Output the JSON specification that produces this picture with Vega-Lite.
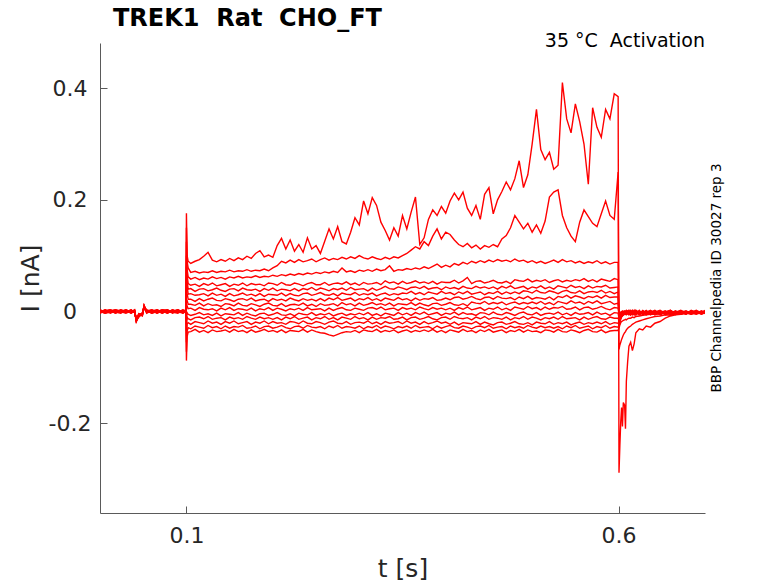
{
"$schema":"https://vega.github.io/schema/vega-lite/v6.json",
"width":605,"height":470,
"autosize":{"type":"none"},
"padding":{"left":100,"top":43,"right":73,"bottom":70},
"background":"white",
"config":{"view":{"stroke":null},"font":"DejaVu Sans"},
"title":{"text":"TREK1 \u00a0Rat \u00a0CHO_FT","anchor":"start","frame":"group","fontSize":24,"fontWeight":"bold","font":"DejaVu Sans","color":"#000000","offset":1,"dx":13},
"layer":[
{"data":{"values":[
{"t":0,"a":0.002,"b":-0.001,"c":0.003,"d":-0.002,"e":0.001,"f":-0.003,"g":0,"h":0.002,"i":-0.002,"j":0.001,"k":-0.001,"l":0.003,"m":-0.003,"n":0},
{"t":0.006,"a":-0.002,"b":0.003,"c":-0.001,"d":0.001,"e":-0.003,"f":0.002,"g":0.001,"h":-0.002,"i":0.003,"j":0,"k":0.002,"l":-0.001,"m":0.001,"n":-0.003},
{"t":0.012,"a":0.001,"b":-0.002,"c":0.002,"d":0.003,"e":-0.001,"f":0,"g":-0.003,"h":0.001,"i":-0.001,"j":0.002,"k":-0.002,"l":0,"m":0.003,"n":0.001},
{"t":0.018,"a":-0.003,"b":0,"c":-0.002,"d":-0.001,"e":0.002,"f":0.003,"g":0.001,"h":-0.002,"i":0,"j":-0.003,"k":0.001,"l":0.002,"m":-0.001,"n":0.003},
{"t":0.024,"a":0.003,"b":0.001,"c":0,"d":-0.003,"e":-0.002,"f":0.001,"g":0.002,"h":0.003,"i":-0.001,"j":0.002,"k":0,"l":-0.002,"m":0.001,"n":-0.001},
{"t":0.03,"a":-0.001,"b":0.002,"c":-0.003,"d":0.002,"e":0.003,"f":-0.002,"g":-0.001,"h":0,"i":0.002,"j":-0.001,"k":0.003,"l":0.001,"m":-0.002,"n":0.002},
{"t":0.036,"a":0,"b":-0.003,"c":0.001,"d":0.001,"e":-0.001,"f":0.002,"g":0.003,"h":-0.001,"i":-0.003,"j":0.003,"k":-0.002,"l":-0.001,"m":0.002,"n":-0.002},
{"t":0.04,"a":0.002,"b":0.001,"c":-0.001,"d":-0.002,"e":0,"f":-0.001,"g":-0.002,"h":0.003,"i":0.001,"j":-0.002,"k":0.001,"l":0.002,"m":0,"n":0.003},
{"t":0.042,"a":-0.017,"b":-0.013,"c":-0.015,"d":-0.014,"e":-0.018,"f":-0.014,"g":-0.012,"h":-0.016,"i":-0.013,"j":-0.015,"k":-0.016,"l":-0.017,"m":-0.014,"n":-0.018},
{"t":0.045,"a":-0.006,"b":-0.008,"c":-0.005,"d":-0.009,"e":-0.007,"f":-0.004,"g":-0.008,"h":-0.006,"i":-0.01,"j":-0.005,"k":-0.007,"l":-0.009,"m":-0.004,"n":-0.008},
{"t":0.049,"a":-0.007,"b":-0.005,"c":-0.004,"d":-0.002,"e":-0.006,"f":-0.007,"g":-0.003,"h":-0.005,"i":-0.004,"j":-0.008,"k":-0.003,"l":-0.004,"m":-0.006,"n":-0.005},
{"t":0.051,"a":0.01,"b":0.007,"c":0.008,"d":0.006,"e":0.009,"f":0.011,"g":0.005,"h":0.01,"i":0.007,"j":0.008,"k":0.009,"l":0.006,"m":0.011,"n":0.007},
{"t":0.054,"a":-0.001,"b":0.002,"c":-0.002,"d":0,"e":0.003,"f":-0.001,"g":0.001,"h":-0.003,"i":0.002,"j":0.001,"k":-0.002,"l":0.003,"m":0,"n":0.002},
{"t":0.06,"a":0.003,"b":-0.002,"c":0.001,"d":0.002,"e":-0.001,"f":0,"g":-0.003,"h":0.002,"i":-0.002,"j":0.003,"k":0.001,"l":-0.001,"m":0.002,"n":-0.003},
{"t":0.066,"a":-0.002,"b":0.001,"c":0.003,"d":-0.003,"e":0.002,"f":-0.001,"g":0,"h":0.001,"i":0.003,"j":-0.002,"k":-0.001,"l":0.002,"m":-0.003,"n":0.001},
{"t":0.072,"a":0.001,"b":-0.003,"c":-0.001,"d":0.002,"e":0,"f":0.002,"g":0.003,"h":-0.002,"i":-0.001,"j":0.001,"k":0.003,"l":-0.003,"m":0.001,"n":0},
{"t":0.078,"a":-0.003,"b":0.002,"c":0,"d":-0.001,"e":-0.002,"f":0.003,"g":-0.001,"h":0.003,"i":0,"j":-0.003,"k":0.002,"l":0.001,"m":-0.002,"n":0.002},
{"t":0.084,"a":0.002,"b":0,"c":-0.002,"d":0.003,"e":0.001,"f":-0.003,"g":0.002,"h":-0.001,"i":-0.002,"j":0.002,"k":-0.001,"l":0,"m":0.003,"n":-0.002},
{"t":0.09,"a":0,"b":-0.001,"c":0.003,"d":-0.002,"e":0.003,"f":0.001,"g":-0.002,"h":0,"i":0.002,"j":-0.001,"k":-0.003,"l":0.002,"m":-0.001,"n":0.003},
{"t":0.096,"a":-0.001,"b":0.003,"c":-0.003,"d":0.001,"e":-0.002,"f":0.002,"g":0.001,"h":-0.003,"i":0.001,"j":0,"k":0.002,"l":-0.002,"m":0.002,"n":-0.001},
{"t":0.0995,"a":0.001,"b":-0.002,"c":0.002,"d":0,"e":-0.001,"f":-0.003,"g":0.003,"h":0.002,"i":-0.002,"j":0.003,"k":0,"l":0.001,"m":-0.003,"n":0.001},
{"t":0.1,"a":0.176,"b":0.15,"c":0.125,"d":0.1,"e":0.08,"f":0.06,"g":0.04,"h":0.02,"i":0.005,"j":-0.015,"k":-0.035,"l":-0.055,"m":-0.072,"n":-0.088},
{"t":0.1008,"a":0.1,"b":0.09,"c":0.075,"d":0.065,"e":0.055,"f":0.045,"g":0.032,"h":0.02,"i":0.01,"j":-0.002,"k":-0.01,"l":-0.022,"m":-0.035,"n":-0.045},
{"t":0.102,"a":0.09,"b":0.078,"c":0.062,"d":0.05,"e":0.04,"f":0.031,"g":0.022,"h":0.013,"i":0.005,"j":-0.005,"k":-0.013,"l":-0.02,"m":-0.029,"n":-0.037},
{"t":0.105,"a":0.086,"b":0.07,"c":0.058,"d":0.047,"e":0.041,"f":0.032,"g":0.022,"h":0.013,"i":0.006,"j":-0.007,"k":-0.015,"l":-0.023,"m":-0.031,"n":-0.036},
{"t":0.11,"a":0.09,"b":0.072,"c":0.061,"d":0.049,"e":0.036,"f":0.029,"g":0.018,"h":0.011,"i":0.002,"j":-0.005,"k":-0.011,"l":-0.018,"m":-0.026,"n":-0.032},
{"t":0.115,"a":0.093,"b":0.069,"c":0.057,"d":0.045,"e":0.04,"f":0.03,"g":0.023,"h":0.015,"i":0.007,"j":-0.002,"k":-0.01,"l":-0.02,"m":-0.028,"n":-0.037},
{"t":0.12,"a":0.099,"b":0.071,"c":0.06,"d":0.05,"e":0.041,"f":0.032,"g":0.019,"h":0.01,"i":0.004,"j":-0.006,"k":-0.013,"l":-0.022,"m":-0.03,"n":-0.034},
{"t":0.125,"a":0.106,"b":0.07,"c":0.058,"d":0.047,"e":0.037,"f":0.028,"g":0.022,"h":0.014,"i":0.003,"j":-0.004,"k":-0.009,"l":-0.017,"m":-0.025,"n":-0.038},
{"t":0.13,"a":0.092,"b":0.073,"c":0.062,"d":0.051,"e":0.039,"f":0.033,"g":0.024,"h":0.011,"i":0.005,"j":-0.007,"k":-0.014,"l":-0.021,"m":-0.029,"n":-0.033},
{"t":0.135,"a":0.089,"b":0.07,"c":0.059,"d":0.046,"e":0.042,"f":0.029,"g":0.02,"h":0.012,"i":0.001,"j":-0.003,"k":-0.012,"l":-0.019,"m":-0.027,"n":-0.036},
{"t":0.14,"a":0.093,"b":0.072,"c":0.061,"d":0.048,"e":0.038,"f":0.031,"g":0.019,"h":0.009,"i":0.006,"j":-0.008,"k":-0.011,"l":-0.023,"m":-0.031,"n":-0.035},
{"t":0.145,"a":0.09,"b":0.071,"c":0.058,"d":0.05,"e":0.036,"f":0.027,"g":0.023,"h":0.014,"i":0.003,"j":-0.004,"k":-0.015,"l":-0.018,"m":-0.026,"n":-0.033},
{"t":0.15,"a":0.095,"b":0.074,"c":0.062,"d":0.045,"e":0.04,"f":0.032,"g":0.021,"h":0.013,"i":0.007,"j":-0.005,"k":-0.01,"l":-0.021,"m":-0.03,"n":-0.037},
{"t":0.155,"a":0.091,"b":0.071,"c":0.06,"d":0.049,"e":0.041,"f":0.028,"g":0.018,"h":0.01,"i":0.002,"j":-0.006,"k":-0.013,"l":-0.017,"m":-0.027,"n":-0.032},
{"t":0.16,"a":0.096,"b":0.073,"c":0.063,"d":0.047,"e":0.037,"f":0.03,"g":0.022,"h":0.015,"i":0.005,"j":-0.002,"k":-0.011,"l":-0.022,"m":-0.028,"n":-0.036},
{"t":0.165,"a":0.093,"b":0.072,"c":0.06,"d":0.051,"e":0.042,"f":0.033,"g":0.023,"h":0.011,"i":0.004,"j":-0.007,"k":-0.014,"l":-0.02,"m":-0.025,"n":-0.034},
{"t":0.17,"a":0.099,"b":0.075,"c":0.062,"d":0.046,"e":0.039,"f":0.029,"g":0.02,"h":0.01,"i":0.002,"j":-0.003,"k":-0.009,"l":-0.018,"m":-0.03,"n":-0.038},
{"t":0.175,"a":0.095,"b":0.072,"c":0.061,"d":0.05,"e":0.038,"f":0.031,"g":0.024,"h":0.014,"i":0.006,"j":-0.006,"k":-0.012,"l":-0.023,"m":-0.029,"n":-0.033},
{"t":0.18,"a":0.104,"b":0.074,"c":0.064,"d":0.048,"e":0.04,"f":0.028,"g":0.019,"h":0.012,"i":0.001,"j":-0.008,"k":-0.014,"l":-0.019,"m":-0.026,"n":-0.037},
{"t":0.185,"a":0.109,"b":0.073,"c":0.061,"d":0.049,"e":0.036,"f":0.032,"g":0.021,"h":0.009,"i":0.005,"j":-0.004,"k":-0.01,"l":-0.021,"m":-0.031,"n":-0.035},
{"t":0.19,"a":0.098,"b":0.076,"c":0.063,"d":0.046,"e":0.041,"f":0.027,"g":0.022,"h":0.013,"i":0.003,"j":-0.003,"k":-0.013,"l":-0.017,"m":-0.027,"n":-0.032},
{"t":0.195,"a":0.101,"b":0.073,"c":0.062,"d":0.051,"e":0.038,"f":0.031,"g":0.018,"h":0.015,"i":0.007,"j":-0.007,"k":-0.011,"l":-0.022,"m":-0.026,"n":-0.036},
{"t":0.2,"a":0.097,"b":0.078,"c":0.065,"d":0.05,"e":0.042,"f":0.03,"g":0.023,"h":0.011,"i":0.002,"j":-0.005,"k":-0.014,"l":-0.018,"m":-0.03,"n":-0.034},
{"t":0.205,"a":0.118,"b":0.082,"c":0.063,"d":0.047,"e":0.037,"f":0.029,"g":0.02,"h":0.01,"i":0.006,"j":-0.002,"k":-0.011,"l":-0.021,"m":-0.028,"n":-0.037},
{"t":0.21,"a":0.131,"b":0.09,"c":0.066,"d":0.052,"e":0.04,"f":0.033,"g":0.022,"h":0.014,"i":0.004,"j":-0.006,"k":-0.015,"l":-0.02,"m":-0.025,"n":-0.033},
{"t":0.215,"a":0.112,"b":0.087,"c":0.064,"d":0.048,"e":0.039,"f":0.028,"g":0.019,"h":0.009,"i":0.001,"j":-0.007,"k":-0.01,"l":-0.023,"m":-0.029,"n":-0.038},
{"t":0.22,"a":0.128,"b":0.092,"c":0.067,"d":0.047,"e":0.037,"f":0.032,"g":0.024,"h":0.012,"i":0.005,"j":-0.004,"k":-0.013,"l":-0.018,"m":-0.031,"n":-0.034},
{"t":0.225,"a":0.108,"b":0.088,"c":0.065,"d":0.051,"e":0.041,"f":0.029,"g":0.021,"h":0.013,"i":0.003,"j":-0.008,"k":-0.009,"l":-0.019,"m":-0.027,"n":-0.035},
{"t":0.23,"a":0.12,"b":0.093,"c":0.068,"d":0.049,"e":0.037,"f":0.028,"g":0.019,"h":0.011,"i":0.006,"j":-0.003,"k":-0.014,"l":-0.022,"m":-0.026,"n":-0.036},
{"t":0.235,"a":0.106,"b":0.089,"c":0.066,"d":0.046,"e":0.041,"f":0.032,"g":0.023,"h":0.015,"i":0.002,"j":-0.005,"k":-0.012,"l":-0.017,"m":-0.03,"n":-0.032},
{"t":0.24,"a":0.132,"b":0.091,"c":0.069,"d":0.05,"e":0.039,"f":0.033,"g":0.02,"h":0.01,"i":0.007,"j":-0.006,"k":-0.01,"l":-0.021,"m":-0.025,"n":-0.037},
{"t":0.245,"a":0.112,"b":0.094,"c":0.067,"d":0.052,"e":0.043,"f":0.029,"g":0.022,"h":0.013,"i":0.003,"j":-0.002,"k":-0.015,"l":-0.022,"m":-0.028,"n":-0.033},
{"t":0.25,"a":0.118,"b":0.089,"c":0.07,"d":0.048,"e":0.038,"f":0.031,"g":0.019,"h":0.009,"i":0.004,"j":-0.007,"k":-0.011,"l":-0.018,"m":-0.029,"n":-0.036},
{"t":0.255,"a":0.104,"b":0.093,"c":0.068,"d":0.048,"e":0.042,"f":0.034,"g":0.023,"h":0.014,"i":0.005,"j":-0.004,"k":-0.013,"l":-0.02,"m":-0.027,"n":-0.038},
{"t":0.26,"a":0.126,"b":0.096,"c":0.071,"d":0.052,"e":0.04,"f":0.03,"g":0.019,"h":0.011,"i":0.001,"j":-0.006,"k":-0.009,"l":-0.023,"m":-0.031,"n":-0.039},
{"t":0.265,"a":0.148,"b":0.092,"c":0.069,"d":0.047,"e":0.037,"f":0.029,"g":0.024,"h":0.012,"i":0.006,"j":-0.003,"k":-0.014,"l":-0.019,"m":-0.026,"n":-0.042},
{"t":0.27,"a":0.13,"b":0.095,"c":0.072,"d":0.05,"e":0.041,"f":0.032,"g":0.021,"h":0.014,"i":0.002,"j":-0.008,"k":-0.011,"l":-0.017,"m":-0.029,"n":-0.044},
{"t":0.275,"a":0.152,"b":0.093,"c":0.07,"d":0.051,"e":0.039,"f":0.028,"g":0.025,"h":0.01,"i":0.005,"j":-0.005,"k":-0.015,"l":-0.021,"m":-0.025,"n":-0.041},
{"t":0.28,"a":0.125,"b":0.097,"c":0.078,"d":0.049,"e":0.042,"f":0.033,"g":0.02,"h":0.016,"i":0.007,"j":-0.003,"k":-0.01,"l":-0.022,"m":-0.03,"n":-0.038},
{"t":0.285,"a":0.121,"b":0.094,"c":0.071,"d":0.053,"e":0.038,"f":0.031,"g":0.022,"h":0.012,"i":0.003,"j":-0.007,"k":-0.012,"l":-0.018,"m":-0.027,"n":-0.036},
{"t":0.29,"a":0.142,"b":0.098,"c":0.073,"d":0.048,"e":0.043,"f":0.03,"g":0.024,"h":0.014,"i":0.002,"j":-0.004,"k":-0.014,"l":-0.023,"m":-0.028,"n":-0.037},
{"t":0.295,"a":0.168,"b":0.095,"c":0.07,"d":0.051,"e":0.039,"f":0.034,"g":0.019,"h":0.01,"i":0.006,"j":-0.006,"k":-0.009,"l":-0.02,"m":-0.03,"n":-0.034},
{"t":0.3,"a":0.155,"b":0.1,"c":0.074,"d":0.047,"e":0.04,"f":0.029,"g":0.023,"h":0.015,"i":0.004,"j":-0.003,"k":-0.013,"l":-0.019,"m":-0.026,"n":-0.038},
{"t":0.305,"a":0.198,"b":0.096,"c":0.072,"d":0.052,"e":0.041,"f":0.032,"g":0.021,"h":0.011,"i":0.002,"j":-0.006,"k":-0.011,"l":-0.021,"m":-0.031,"n":-0.033},
{"t":0.31,"a":0.175,"b":0.094,"c":0.075,"d":0.049,"e":0.037,"f":0.03,"g":0.025,"h":0.013,"i":0.006,"j":-0.002,"k":-0.015,"l":-0.017,"m":-0.027,"n":-0.035},
{"t":0.315,"a":0.204,"b":0.098,"c":0.072,"d":0.05,"e":0.042,"f":0.033,"g":0.02,"h":0.016,"i":0.007,"j":-0.007,"k":-0.01,"l":-0.022,"m":-0.029,"n":-0.036},
{"t":0.32,"a":0.19,"b":0.095,"c":0.076,"d":0.052,"e":0.038,"f":0.028,"g":0.023,"h":0.012,"i":0.004,"j":-0.004,"k":-0.014,"l":-0.019,"m":-0.025,"n":-0.032},
{"t":0.325,"a":0.16,"b":0.093,"c":0.073,"d":0.048,"e":0.041,"f":0.031,"g":0.019,"h":0.014,"i":0.008,"j":-0.008,"k":-0.011,"l":-0.023,"m":-0.03,"n":-0.037},
{"t":0.33,"a":0.145,"b":0.097,"c":0.075,"d":0.055,"e":0.045,"f":0.033,"g":0.024,"h":0.011,"i":0.003,"j":-0.003,"k":-0.012,"l":-0.018,"m":-0.026,"n":-0.034},
{"t":0.335,"a":0.128,"b":0.094,"c":0.082,"d":0.051,"e":0.041,"f":0.029,"g":0.022,"h":0.015,"i":0.005,"j":-0.005,"k":-0.009,"l":-0.021,"m":-0.028,"n":-0.036},
{"t":0.34,"a":0.15,"b":0.098,"c":0.072,"d":0.053,"e":0.04,"f":0.032,"g":0.02,"h":0.01,"i":0.006,"j":-0.007,"k":-0.014,"l":-0.02,"m":-0.031,"n":-0.033},
{"t":0.345,"a":0.135,"b":0.096,"c":0.075,"d":0.049,"e":0.044,"f":0.03,"g":0.025,"h":0.014,"i":0.002,"j":-0.002,"k":-0.013,"l":-0.018,"m":-0.027,"n":-0.038},
{"t":0.35,"a":0.172,"b":0.1,"c":0.074,"d":0.054,"e":0.042,"f":0.033,"g":0.021,"h":0.013,"i":0.007,"j":-0.006,"k":-0.01,"l":-0.022,"m":-0.029,"n":-0.035},
{"t":0.355,"a":0.148,"b":0.104,"c":0.077,"d":0.05,"e":0.039,"f":0.032,"g":0.023,"h":0.012,"i":0.004,"j":-0.003,"k":-0.015,"l":-0.017,"m":-0.026,"n":-0.033},
{"t":0.36,"a":0.178,"b":0.11,"c":0.075,"d":0.052,"e":0.043,"f":0.036,"g":0.019,"h":0.016,"i":0.006,"j":-0.007,"k":-0.011,"l":-0.021,"m":-0.03,"n":-0.037},
{"t":0.365,"a":0.205,"b":0.116,"c":0.078,"d":0.055,"e":0.044,"f":0.031,"g":0.024,"h":0.011,"i":0.003,"j":-0.002,"k":-0.01,"l":-0.019,"m":-0.025,"n":-0.034},
{"t":0.37,"a":0.12,"b":0.112,"c":0.076,"d":0.051,"e":0.041,"f":0.034,"g":0.02,"h":0.015,"i":0.008,"j":-0.005,"k":-0.014,"l":-0.023,"m":-0.029,"n":-0.036},
{"t":0.375,"a":0.132,"b":0.125,"c":0.08,"d":0.053,"e":0.045,"f":0.03,"g":0.023,"h":0.012,"i":0.005,"j":-0.001,"k":-0.012,"l":-0.018,"m":-0.028,"n":-0.033},
{"t":0.38,"a":0.165,"b":0.118,"c":0.077,"d":0.05,"e":0.04,"f":0.035,"g":0.022,"h":0.01,"i":0.003,"j":-0.006,"k":-0.009,"l":-0.022,"m":-0.027,"n":-0.036},
{"t":0.385,"a":0.182,"b":0.135,"c":0.081,"d":0.054,"e":0.042,"f":0.033,"g":0.025,"h":0.014,"i":0.007,"j":-0.004,"k":-0.013,"l":-0.02,"m":-0.031,"n":-0.032},
{"t":0.39,"a":0.172,"b":0.148,"c":0.085,"d":0.049,"e":0.043,"f":0.031,"g":0.02,"h":0.015,"i":0.004,"j":-0.002,"k":-0.015,"l":-0.017,"m":-0.026,"n":-0.037},
{"t":0.395,"a":0.188,"b":0.13,"c":0.079,"d":0.053,"e":0.039,"f":0.036,"g":0.021,"h":0.011,"i":0.006,"j":-0.007,"k":-0.011,"l":-0.021,"m":-0.03,"n":-0.034},
{"t":0.4,"a":0.176,"b":0.142,"c":0.083,"d":0.052,"e":0.044,"f":0.032,"g":0.024,"h":0.013,"i":0.003,"j":-0.003,"k":-0.01,"l":-0.019,"m":-0.027,"n":-0.038},
{"t":0.405,"a":0.198,"b":0.138,"c":0.08,"d":0.052,"e":0.041,"f":0.034,"g":0.021,"h":0.016,"i":0.006,"j":-0.005,"k":-0.014,"l":-0.023,"m":-0.025,"n":-0.033},
{"t":0.41,"a":0.212,"b":0.128,"c":0.086,"d":0.056,"e":0.043,"f":0.03,"g":0.025,"h":0.012,"i":0.002,"j":-0.001,"k":-0.009,"l":-0.019,"m":-0.029,"n":-0.035},
{"t":0.415,"a":0.2,"b":0.12,"c":0.083,"d":0.051,"e":0.04,"f":0.035,"g":0.026,"h":0.011,"i":0.007,"j":-0.006,"k":-0.012,"l":-0.024,"m":-0.03,"n":-0.037},
{"t":0.42,"a":0.214,"b":0.116,"c":0.088,"d":0.055,"e":0.045,"f":0.032,"g":0.022,"h":0.014,"i":0.004,"j":-0.002,"k":-0.013,"l":-0.02,"m":-0.026,"n":-0.032},
{"t":0.425,"a":0.185,"b":0.122,"c":0.085,"d":0.061,"e":0.042,"f":0.036,"g":0.024,"h":0.01,"i":0.008,"j":-0.005,"k":-0.011,"l":-0.021,"m":-0.028,"n":-0.036},
{"t":0.43,"a":0.172,"b":0.114,"c":0.09,"d":0.05,"e":0.041,"f":0.031,"g":0.027,"h":0.017,"i":0.003,"j":-0.004,"k":-0.015,"l":-0.022,"m":-0.031,"n":-0.034},
{"t":0.435,"a":0.19,"b":0.119,"c":0.087,"d":0.054,"e":0.045,"f":0.033,"g":0.023,"h":0.015,"i":0.005,"j":-0.007,"k":-0.01,"l":-0.018,"m":-0.027,"n":-0.038},
{"t":0.44,"a":0.165,"b":0.112,"c":0.091,"d":0.055,"e":0.042,"f":0.035,"g":0.021,"h":0.014,"i":0.007,"j":-0.002,"k":-0.013,"l":-0.023,"m":-0.026,"n":-0.033},
{"t":0.445,"a":0.21,"b":0.118,"c":0.088,"d":0.051,"e":0.044,"f":0.03,"g":0.025,"h":0.018,"i":0.002,"j":-0.003,"k":-0.009,"l":-0.019,"m":-0.029,"n":-0.036},
{"t":0.45,"a":0.222,"b":0.115,"c":0.092,"d":0.053,"e":0.041,"f":0.034,"g":0.026,"h":0.013,"i":0.006,"j":-0.006,"k":-0.014,"l":-0.022,"m":-0.025,"n":-0.032},
{"t":0.455,"a":0.175,"b":0.12,"c":0.089,"d":0.056,"e":0.044,"f":0.032,"g":0.022,"h":0.016,"i":0.004,"j":-0.001,"k":-0.011,"l":-0.024,"m":-0.03,"n":-0.037},
{"t":0.46,"a":0.2,"b":0.116,"c":0.093,"d":0.052,"e":0.04,"f":0.036,"g":0.027,"h":0.014,"i":0.008,"j":-0.005,"k":-0.012,"l":-0.02,"m":-0.028,"n":-0.035},
{"t":0.465,"a":0.215,"b":0.13,"c":0.09,"d":0.051,"e":0.045,"f":0.031,"g":0.024,"h":0.017,"i":0.003,"j":-0.006,"k":-0.014,"l":-0.019,"m":-0.027,"n":-0.033},
{"t":0.47,"a":0.232,"b":0.136,"c":0.092,"d":0.054,"e":0.042,"f":0.035,"g":0.023,"h":0.012,"i":0.006,"j":-0.002,"k":-0.01,"l":-0.023,"m":-0.031,"n":-0.038},
{"t":0.475,"a":0.218,"b":0.15,"c":0.089,"d":0.05,"e":0.046,"f":0.032,"g":0.025,"h":0.015,"i":0.002,"j":-0.004,"k":-0.015,"l":-0.021,"m":-0.026,"n":-0.034},
{"t":0.48,"a":0.238,"b":0.172,"c":0.094,"d":0.057,"e":0.041,"f":0.035,"g":0.021,"h":0.017,"i":0.008,"j":-0.007,"k":-0.011,"l":-0.018,"m":-0.029,"n":-0.036},
{"t":0.485,"a":0.27,"b":0.16,"c":0.09,"d":0.055,"e":0.043,"f":0.032,"g":0.026,"h":0.013,"i":0.006,"j":-0.003,"k":-0.013,"l":-0.022,"m":-0.027,"n":-0.032},
{"t":0.49,"a":0.222,"b":0.148,"c":0.092,"d":0.054,"e":0.045,"f":0.037,"g":0.023,"h":0.016,"i":0.004,"j":-0.001,"k":-0.009,"l":-0.023,"m":-0.03,"n":-0.037},
{"t":0.495,"a":0.245,"b":0.158,"c":0.088,"d":0.058,"e":0.04,"f":0.036,"g":0.027,"h":0.014,"i":0.009,"j":-0.005,"k":-0.014,"l":-0.02,"m":-0.025,"n":-0.033},
{"t":0.5,"a":0.3,"b":0.142,"c":0.091,"d":0.053,"e":0.044,"f":0.033,"g":0.022,"h":0.017,"i":0.005,"j":-0.006,"k":-0.01,"l":-0.024,"m":-0.028,"n":-0.036},
{"t":0.505,"a":0.362,"b":0.155,"c":0.087,"d":0.056,"e":0.042,"f":0.038,"g":0.025,"h":0.014,"i":0.007,"j":-0.002,"k":-0.012,"l":-0.019,"m":-0.03,"n":-0.035},
{"t":0.51,"a":0.29,"b":0.14,"c":0.09,"d":0.054,"e":0.046,"f":0.034,"g":0.024,"h":0.018,"i":0.003,"j":-0.007,"k":-0.015,"l":-0.021,"m":-0.026,"n":-0.038},
{"t":0.515,"a":0.272,"b":0.162,"c":0.086,"d":0.057,"e":0.041,"f":0.033,"g":0.022,"h":0.013,"i":0.008,"j":-0.004,"k":-0.011,"l":-0.022,"m":-0.029,"n":-0.033},
{"t":0.52,"a":0.285,"b":0.205,"c":0.089,"d":0.052,"e":0.044,"f":0.037,"g":0.026,"h":0.016,"i":0.004,"j":-0.003,"k":-0.013,"l":-0.018,"m":-0.027,"n":-0.034},
{"t":0.525,"a":0.255,"b":0.214,"c":0.092,"d":0.055,"e":0.04,"f":0.035,"g":0.021,"h":0.012,"i":0.007,"j":-0.005,"k":-0.01,"l":-0.023,"m":-0.03,"n":-0.037},
{"t":0.53,"a":0.262,"b":0.218,"c":0.088,"d":0.057,"e":0.046,"f":0.032,"g":0.027,"h":0.018,"i":0.006,"j":-0.001,"k":-0.014,"l":-0.02,"m":-0.027,"n":-0.032},
{"t":0.535,"a":0.41,"b":0.172,"c":0.093,"d":0.053,"e":0.044,"f":0.036,"g":0.025,"h":0.016,"i":0.009,"j":-0.006,"k":-0.009,"l":-0.022,"m":-0.031,"n":-0.036},
{"t":0.54,"a":0.345,"b":0.15,"c":0.089,"d":0.056,"e":0.042,"f":0.038,"g":0.029,"h":0.014,"i":0.004,"j":-0.003,"k":-0.013,"l":-0.019,"m":-0.026,"n":-0.037},
{"t":0.545,"a":0.32,"b":0.135,"c":0.091,"d":0.054,"e":0.047,"f":0.034,"g":0.024,"h":0.019,"i":0.005,"j":-0.007,"k":-0.012,"l":-0.024,"m":-0.029,"n":-0.033},
{"t":0.55,"a":0.372,"b":0.125,"c":0.087,"d":0.057,"e":0.043,"f":0.033,"g":0.028,"h":0.015,"i":0.008,"j":-0.002,"k":-0.011,"l":-0.021,"m":-0.025,"n":-0.035},
{"t":0.555,"a":0.34,"b":0.16,"c":0.09,"d":0.055,"e":0.045,"f":0.037,"g":0.026,"h":0.017,"i":0.003,"j":-0.005,"k":-0.015,"l":-0.019,"m":-0.03,"n":-0.038},
{"t":0.56,"a":0.3,"b":0.182,"c":0.086,"d":0.059,"e":0.041,"f":0.032,"g":0.023,"h":0.013,"i":0.007,"j":-0.004,"k":-0.01,"l":-0.023,"m":-0.028,"n":-0.034},
{"t":0.565,"a":0.228,"b":0.17,"c":0.089,"d":0.054,"e":0.046,"f":0.035,"g":0.027,"h":0.018,"i":0.008,"j":-0.002,"k":-0.014,"l":-0.02,"m":-0.026,"n":-0.032},
{"t":0.57,"a":0.365,"b":0.158,"c":0.087,"d":0.057,"e":0.042,"f":0.036,"g":0.025,"h":0.015,"i":0.004,"j":-0.006,"k":-0.011,"l":-0.022,"m":-0.031,"n":-0.036},
{"t":0.575,"a":0.33,"b":0.152,"c":0.091,"d":0.053,"e":0.045,"f":0.034,"g":0.028,"h":0.019,"i":0.006,"j":-0.001,"k":-0.009,"l":-0.019,"m":-0.027,"n":-0.037},
{"t":0.58,"a":0.312,"b":0.175,"c":0.086,"d":0.058,"e":0.044,"f":0.038,"g":0.024,"h":0.014,"i":0.009,"j":-0.005,"k":-0.013,"l":-0.022,"m":-0.029,"n":-0.033},
{"t":0.585,"a":0.362,"b":0.198,"c":0.089,"d":0.056,"e":0.047,"f":0.033,"g":0.029,"h":0.016,"i":0.005,"j":-0.003,"k":-0.014,"l":-0.018,"m":-0.025,"n":-0.038},
{"t":0.59,"a":0.345,"b":0.172,"c":0.085,"d":0.054,"e":0.042,"f":0.036,"g":0.025,"h":0.018,"i":0.003,"j":-0.007,"k":-0.01,"l":-0.023,"m":-0.03,"n":-0.035},
{"t":0.595,"a":0.39,"b":0.165,"c":0.088,"d":0.059,"e":0.043,"f":0.032,"g":0.026,"h":0.013,"i":0.007,"j":-0.002,"k":-0.012,"l":-0.02,"m":-0.027,"n":-0.034},
{"t":0.5995,"a":0.385,"b":0.25,"c":0.088,"d":0.057,"e":0.044,"f":0.035,"g":0.026,"h":0.015,"i":0.006,"j":-0.003,"k":-0.012,"l":-0.021,"m":-0.028,"n":-0.034},
{"t":0.6005,"a":-0.289,"b":-0.068,"c":-0.03,"d":-0.022,"e":-0.018,"f":-0.014,"g":-0.01,"h":-0.008,"i":-0.005,"j":-0.012,"k":-0.016,"l":-0.02,"m":-0.025,"n":-0.028},
{"t":0.6015,"a":-0.24,"b":-0.06,"c":-0.024,"d":-0.016,"e":-0.012,"f":-0.009,"g":-0.007,"h":-0.006,"i":-0.003,"j":-0.009,"k":-0.011,"l":-0.014,"m":-0.017,"n":-0.02},
{"t":0.6025,"a":-0.198,"b":-0.055,"c":-0.02,"d":-0.012,"e":-0.009,"f":-0.006,"g":-0.004,"h":-0.004,"i":-0.001,"j":-0.007,"k":-0.008,"l":-0.01,"m":-0.012,"n":-0.014},
{"t":0.6035,"a":-0.172,"b":-0.05,"c":-0.018,"d":-0.009,"e":-0.006,"f":-0.005,"g":-0.002,"h":-0.003,"i":0,"j":-0.005,"k":-0.006,"l":-0.007,"m":-0.009,"n":-0.01},
{"t":0.6045,"a":-0.206,"b":-0.046,"c":-0.017,"d":-0.007,"e":-0.004,"f":-0.003,"g":-0.001,"h":-0.002,"i":0.001,"j":-0.004,"k":-0.005,"l":-0.006,"m":-0.007,"n":-0.008},
{"t":0.6055,"a":-0.163,"b":-0.042,"c":-0.016,"d":-0.006,"e":-0.003,"f":-0.004,"g":0,"h":-0.001,"i":-0.001,"j":-0.003,"k":-0.004,"l":-0.005,"m":-0.006,"n":-0.006},
{"t":0.607,"a":-0.168,"b":-0.038,"c":-0.015,"d":-0.004,"e":-0.002,"f":-0.002,"g":0.001,"h":-0.003,"i":0,"j":-0.002,"k":-0.005,"l":-0.003,"m":-0.004,"n":-0.005},
{"t":0.608,"a":-0.21,"b":-0.036,"c":-0.014,"d":-0.005,"e":-0.001,"f":-0.003,"g":-0.001,"h":0,"i":-0.002,"j":-0.001,"k":-0.003,"l":-0.004,"m":-0.005,"n":-0.004},
{"t":0.609,"a":-0.125,"b":-0.033,"c":-0.015,"d":-0.003,"e":0,"f":-0.001,"g":0.002,"h":-0.002,"i":0.001,"j":-0.003,"k":-0.002,"l":-0.002,"m":-0.003,"n":-0.006},
{"t":0.6105,"a":-0.09,"b":-0.03,"c":-0.013,"d":-0.004,"e":-0.002,"f":0,"g":0,"h":0.001,"i":-0.001,"j":-0.002,"k":-0.004,"l":-0.003,"m":-0.002,"n":-0.004},
{"t":0.612,"a":-0.062,"b":-0.028,"c":-0.012,"d":-0.002,"e":-0.005,"f":0.001,"g":-0.003,"h":0,"i":-0.006,"j":0.002,"k":-0.001,"l":-0.004,"m":0.001,"n":-0.005},
{"t":0.614,"a":-0.055,"b":-0.026,"c":-0.012,"d":-0.006,"e":0,"f":-0.004,"g":0.002,"h":-0.005,"i":-0.001,"j":-0.003,"k":0.001,"l":-0.002,"m":-0.006,"n":0},
{"t":0.616,"a":-0.07,"b":-0.023,"c":-0.01,"d":0.001,"e":-0.003,"f":-0.006,"g":-0.001,"h":0.002,"i":-0.004,"j":0,"k":-0.005,"l":0.001,"m":-0.002,"n":-0.003},
{"t":0.618,"a":-0.058,"b":-0.021,"c":-0.011,"d":-0.004,"e":0.002,"f":-0.001,"g":-0.005,"h":-0.002,"i":0.001,"j":-0.006,"k":-0.002,"l":-0.003,"m":0,"n":-0.005},
{"t":0.62,"a":-0.038,"b":-0.019,"c":-0.009,"d":-0.001,"e":-0.006,"f":0.002,"g":0,"h":-0.004,"i":-0.002,"j":0.001,"k":-0.004,"l":-0.006,"m":-0.001,"n":0.002},
{"t":0.624,"a":-0.031,"b":-0.017,"c":-0.008,"d":-0.005,"e":-0.001,"f":-0.003,"g":-0.006,"h":0.001,"i":0,"j":-0.004,"k":0.002,"l":-0.001,"m":-0.005,"n":-0.002},
{"t":0.628,"a":-0.033,"b":-0.015,"c":-0.007,"d":0.002,"e":-0.004,"f":0,"g":-0.002,"h":-0.005,"i":-0.003,"j":0.001,"k":-0.006,"l":0,"m":-0.003,"n":-0.004},
{"t":0.632,"a":-0.026,"b":-0.013,"c":-0.006,"d":-0.003,"e":0.001,"f":-0.005,"g":0.001,"h":-0.001,"i":-0.006,"j":-0.002,"k":0,"l":-0.004,"m":0.002,"n":-0.001},
{"t":0.637,"a":-0.028,"b":-0.011,"c":-0.005,"d":0,"e":-0.005,"f":-0.002,"g":-0.004,"h":0.002,"i":-0.001,"j":-0.005,"k":-0.003,"l":0.001,"m":-0.006,"n":-0.003},
{"t":0.642,"a":-0.021,"b":-0.009,"c":-0.005,"d":-0.006,"e":-0.002,"f":0.001,"g":-0.001,"h":-0.004,"i":0.002,"j":-0.001,"k":-0.005,"l":-0.003,"m":-0.001,"n":0},
{"t":0.648,"a":-0.018,"b":-0.008,"c":-0.004,"d":-0.001,"e":0,"f":-0.006,"g":0.002,"h":-0.002,"i":-0.004,"j":0.001,"k":-0.002,"l":-0.005,"m":0,"n":-0.004},
{"t":0.654,"a":-0.012,"b":-0.006,"c":-0.003,"d":-0.004,"e":-0.005,"f":-0.001,"g":-0.003,"h":0.001,"i":-0.002,"j":-0.006,"k":0.001,"l":-0.001,"m":-0.004,"n":-0.002},
{"t":0.66,"a":-0.008,"b":-0.007,"c":-0.005,"d":0.001,"e":-0.002,"f":0.002,"g":-0.005,"h":-0.003,"i":0,"j":-0.002,"k":-0.004,"l":0.002,"m":-0.003,"n":-0.005},
{"t":0.666,"a":-0.006,"b":-0.004,"c":-0.002,"d":-0.003,"e":0.001,"f":-0.004,"g":0,"h":-0.006,"i":-0.003,"j":0,"k":-0.001,"l":-0.004,"m":0.001,"n":-0.002},
{"t":0.672,"a":-0.005,"b":-0.005,"c":-0.004,"d":0,"e":-0.004,"f":-0.001,"g":-0.002,"h":0.001,"i":-0.005,"j":-0.003,"k":0.002,"l":-0.002,"m":-0.005,"n":0},
{"t":0.678,"a":-0.002,"b":-0.002,"c":0,"d":-0.005,"e":-0.001,"f":0.001,"g":-0.004,"h":-0.002,"i":0.001,"j":-0.005,"k":-0.003,"l":0,"m":-0.002,"n":-0.004},
{"t":0.684,"a":-0.004,"b":-0.004,"c":-0.003,"d":0.002,"e":-0.003,"f":-0.005,"g":0.001,"h":-0.001,"i":-0.002,"j":0,"k":-0.005,"l":-0.003,"m":0.001,"n":-0.001},
{"t":0.69,"a":-0.001,"b":-0.001,"c":-0.001,"d":-0.002,"e":0,"f":-0.002,"g":-0.003,"h":0.002,"i":-0.004,"j":-0.002,"k":0,"l":-0.005,"m":-0.003,"n":-0.003},
{"t":0.696,"a":-0.003,"b":-0.003,"c":-0.004,"d":-0.004,"e":-0.005,"f":0,"g":-0.001,"h":-0.003,"i":0,"j":0.001,"k":-0.002,"l":-0.001,"m":-0.004,"n":0.001},
{"t":0.7,"a":-0.002,"b":-0.002,"c":-0.002,"d":0.001,"e":-0.002,"f":-0.003,"g":0.002,"h":-0.001,"i":-0.003,"j":-0.004,"k":-0.001,"l":0,"m":-0.002,"n":-0.002}
]},
"transform":[{"fold":["a","b","c","d","e","f","g","h","i","j","k","l","m","n"],"as":["trace","current"]}],
"mark":{"type":"line","color":"#ff0000","strokeWidth":1.4,"clip":true},
"encoding":{
"x":{"field":"t","type":"quantitative","scale":{"domain":[0,0.7],"nice":false,"zero":false},
"axis":{"values":[0.1,0.6],"labelExpr":"'' + datum.value","title":"t [s]","titleFontSize":25,"titleFontWeight":"normal","titleColor":"#262626","titleFont":"DejaVu Sans","titlePadding":10,"labelFontSize":22,"labelFont":"DejaVu Sans","labelColor":"#262626","labelPadding":19,"labelFlush":false,"labelOverlap":false,"tickSize":-7,"tickColor":"#5a5a5a","domainColor":"#5a5a5a","grid":false}},
"y":{"field":"current","type":"quantitative","scale":{"domain":[-0.361,0.481],"nice":false,"zero":false},
"axis":{"values":[-0.2,0,0.2,0.4],"labelExpr":"'' + datum.value","title":"I [nA]","titleFontSize":25,"titleFontWeight":"normal","titleColor":"#262626","titleFont":"DejaVu Sans","titlePadding":5,"labelFontSize":22,"labelFont":"DejaVu Sans","labelColor":"#262626","labelAlign":"center","labelBaseline":"middle","labelPadding":37.5,"labelOverlap":false,"tickSize":-7,"tickColor":"#5a5a5a","domainColor":"#5a5a5a","grid":false}},
"detail":{"field":"trace","type":"nominal"}
}},
{"data":{"values":[{"label":"35 °C \u00a0Activation"}]},
"mark":{"type":"text","align":"right","baseline":"middle","fontSize":19,"font":"DejaVu Sans","color":"#000000","clip":false},
"encoding":{"x":{"datum":0.7,"type":"quantitative"},"y":{"datum":0.485,"type":"quantitative"},"text":{"field":"label"}}},
{"data":{"values":[{"label":"BBP Channelpedia ID 30027 rep 3"}]},
"mark":{"type":"text","align":"center","baseline":"middle","angle":270,"fontSize":13.5,"font":"DejaVu Sans","color":"#000000","clip":false},
"encoding":{"x":{"datum":0.7135,"type":"quantitative"},"y":{"datum":0.06,"type":"quantitative"},"text":{"field":"label"}}}
]
}
